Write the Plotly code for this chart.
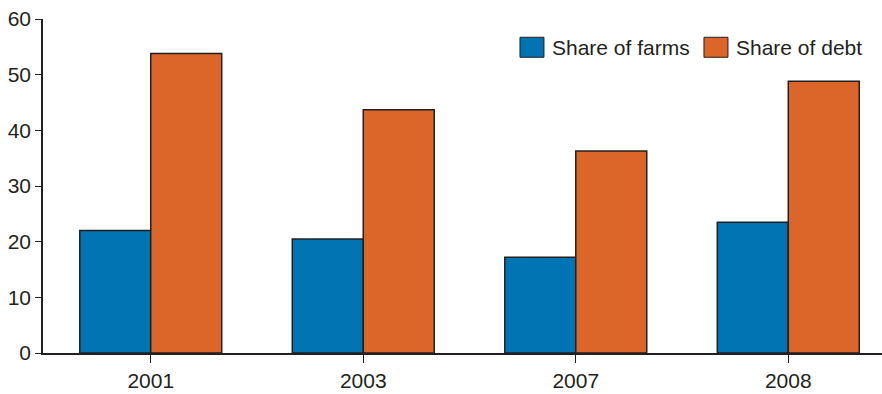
import plotly.graph_objects as go

years = ["2001", "2003", "2007", "2008"]
share_of_farms = [22.0, 20.5, 17.2, 23.5]
share_of_debt = [53.8, 43.7, 36.3, 48.8]
y_ticks = [0, 10, 20, 30, 40, 50, 60]
series_names = ["Share of farms", "Share of debt"]

BLUE = "#0174b3"
ORANGE = "#dc6629"
EDGE = "#231f20"
FONT = "Liberation Sans, Arial, sans-serif"

fig = go.Figure()
fig.add_trace(go.Bar(x=years, y=share_of_farms, name=series_names[0],
                     marker=dict(color=BLUE, line=dict(color=EDGE, width=1.5))))
fig.add_trace(go.Bar(x=years, y=share_of_debt, name=series_names[1],
                     marker=dict(color=ORANGE, line=dict(color=EDGE, width=1.5))))

# Legend drawn manually (larger swatches like the reference)
legend_items = [
    (series_names[0], BLUE, 0.5685, 0.6043),
    (series_names[1], ORANGE, 0.7878, 0.8236),
]
for name, color, sx, tx in legend_items:
    fig.add_shape(type="rect", xref="paper", yref="paper",
                  x0=sx, x1=sx + 0.0286, y0=0.8854, y1=0.9453,
                  fillcolor=color, line=dict(color=EDGE, width=1))
    fig.add_annotation(xref="paper", yref="paper", x=tx, y=0.9133,
                       xanchor="left", yanchor="middle", showarrow=False,
                       text=name, font=dict(size=21, color=EDGE, family=FONT))

fig.update_layout(
    width=882, height=394,
    margin=dict(l=43, r=0, t=19, b=41),
    paper_bgcolor="white", plot_bgcolor="white",
    barmode="group", bargap=0.332, bargroupgap=0,
    font=dict(family=FONT, size=21, color=EDGE),
    showlegend=False,
)
fig.update_xaxes(
    type="category", range=[-0.507, 3.441],
    showline=True, linecolor=EDGE, linewidth=1.5,
    ticks="outside", ticklen=8, tickcolor=EDGE, tickwidth=1,
    showgrid=False, zeroline=False,
    tickfont=dict(size=21),
)
fig.update_yaxes(
    range=[0, 60], tickvals=y_ticks,
    showline=True, linecolor=EDGE, linewidth=1.5,
    ticks="outside", ticklen=6, tickcolor=EDGE, tickwidth=1,
    showgrid=False, zeroline=False,
    tickfont=dict(size=21),
)

fig.write_html("out.html", config={"displayModeBar": False},
               post_script="document.body.style.margin='0';document.body.style.padding='0';")
